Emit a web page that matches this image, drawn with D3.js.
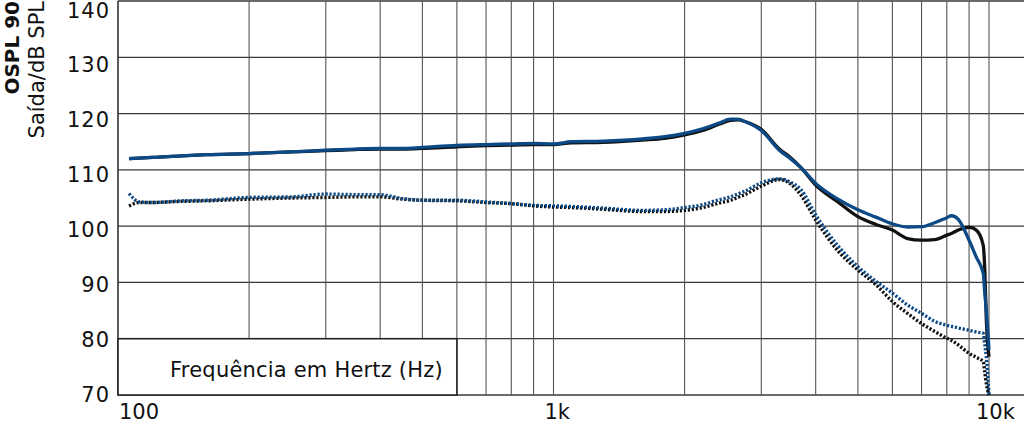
<!DOCTYPE html>
<html>
<head>
<meta charset="utf-8">
<script src="https://cdn.jsdelivr.net/npm/d3@7"></script>
<style>
  body { margin: 0; background: #fff; }
  text { font-family: "DejaVu Sans", "Open Sans", sans-serif; fill: #111; }
</style>
</head>
<body>
<script>
const w = 1024;
const h = 423;

// frequencies (Hz) shared by all four curves
const freqs = [106, 112, 120, 140, 160, 200, 250, 300, 350, 400, 450, 500, 600, 700, 800, 900,
  1000, 1100, 1300, 1600, 1800, 2000, 2200, 2400, 2550, 2650, 2750, 3000, 3300, 3500, 3700,
  4000, 4500, 5000, 5500, 6000, 6500, 7000, 7500, 8000, 8200, 8500, 9000, 9350, 9700, 9780, 9860, 10000];

const solidBlue = [112.0, 112.1, 112.2, 112.5, 112.7, 112.9, 113.2, 113.5, 113.7, 113.8, 113.8, 114.0, 114.35, 114.5, 114.6, 114.7,
  114.6, 115.0, 115.1, 115.5, 115.9, 116.5, 117.3, 118.3, 119.0, 119.0, 118.6, 117.0, 113.5, 112.0, 110.4,
  107.6, 104.8, 102.9, 101.6, 100.4, 99.85, 99.9, 100.6, 101.5, 101.85, 101.2, 97.5, 94.5, 91.6, 88.0, 85.0, 78.0];

const solidBlack = [112.0, 112.1, 112.2, 112.5, 112.7, 112.9, 113.2, 113.4, 113.6, 113.7, 113.7, 113.8, 114.1, 114.3, 114.4, 114.5,
  114.5, 114.8, 114.9, 115.3, 115.6, 116.2, 117.0, 118.1, 118.8, 118.9, 118.6, 117.2, 113.7, 112.2, 110.4,
  107.3, 104.3, 101.7, 100.3, 99.3, 97.8, 97.5, 97.6, 98.4, 98.7, 99.3, 99.8, 99.3, 96.6, 92.2, 83.3, 76.8];

const dottedBlue = [105.8, 104.3, 104.2, 104.5, 104.6, 105.1, 105.2, 105.7, 105.6, 105.6, 104.9, 104.6, 104.6, 104.3, 104.0, 103.7,
  103.6, 103.5, 103.2, 102.8, 102.9, 103.3, 103.8, 104.7, 105.2, 105.7, 106.2, 107.7, 108.4, 107.8, 106.5,
  102.0, 96.5, 92.8, 90.2, 88.1, 86.0, 84.5, 83.1, 82.4, 82.2, 81.9, 81.5, 81.2, 80.95, 79.0, 76.8, 70.0];

const dottedBlack = [103.6, 104.2, 104.2, 104.4, 104.5, 104.8, 105.0, 105.1, 105.2, 105.2, 104.8, 104.6, 104.5, 104.2, 104.0, 103.6,
  103.4, 103.3, 103.0, 102.6, 102.6, 102.8, 103.3, 104.1, 104.6, 105.1, 105.6, 107.1, 108.3, 107.5, 105.5,
  101.1, 95.6, 92.2, 89.6, 86.6, 84.5, 82.7, 81.3, 80.1, 79.7, 78.9, 77.4, 76.7, 75.9, 74.0, 72.0, 70.0];

const gridFreqs = [100, 200, 300, 400, 500, 600, 700, 800, 900,
  1000, 2000, 3000, 4000, 5000, 6000, 7000, 8000, 9000, 10000];
const yTicks = [70, 80, 90, 100, 110, 120, 130, 140];
const xLabels = [[100, "100"], [1000, "1k"], [10000, "10k"]];

const xScale = d3.scaleLog().domain([100, 10000]).range([118, 989]);
const yScale = d3.scaleLinear().domain([70, 140]).range([395, 1]);
// tick labels sit on a slightly tighter spacing than the grid in the original
const yLabelScale = d3.scaleLinear().domain([70, 140]).range([394, 10]);

const svg = d3.select("body").append("svg")
  .attr("width", w)
  .attr("height", h);

// grid
svg.append("g").selectAll("line")
  .data(yTicks).enter().append("line")
  .attr("x1", 118).attr("x2", w)
  .attr("y1", (d) => yScale(d)).attr("y2", (d) => yScale(d))
  .attr("stroke", "#3a3a3a").attr("stroke-width", 1.3);

svg.append("g").selectAll("line")
  .data(gridFreqs).enter().append("line")
  .attr("x1", (d) => xScale(d)).attr("x2", (d) => xScale(d))
  .attr("y1", yScale(140)).attr("y2", yScale(70))
  .attr("stroke", (d) => d == 100 ? "#333" : "#555")
  .attr("stroke-width", (d) => d == 100 ? 1.6 : 1.1);

// x label box
svg.append("rect")
  .attr("x", xScale(100)).attr("y", yScale(80))
  .attr("width", xScale(600) - xScale(100))
  .attr("height", yScale(70) - yScale(80))
  .attr("fill", "#fff").attr("stroke", "#222").attr("stroke-width", 1.6);

svg.append("text")
  .attr("x", xScale(600) - 14).attr("y", 377)
  .attr("text-anchor", "end")
  .style("font-size", "21px")
  .style("letter-spacing", "0.2px")
  .text("Frequência em Hertz (Hz)");

// y tick labels
svg.append("g").selectAll("text")
  .data(yTicks).enter().append("text")
  .attr("x", 110).attr("y", (d) => yLabelScale(d))
  .attr("dy", "0.36em")
  .attr("text-anchor", "end")
  .style("font-size", "21px")
  .style("letter-spacing", "1px")
  .text((d) => d);

// x tick labels
const xOffsets = { 100: 1, 1000: -9, 10000: -13 };
svg.append("g").selectAll("text")
  .data(xLabels).enter().append("text")
  .attr("x", (d) => xScale(d[0]) + xOffsets[d[0]])
  .attr("y", 419)
  .style("font-size", "21px")
  .text((d) => d[1]);

// y axis title
svg.append("text")
  .attr("transform", "translate(19,1) rotate(-90)")
  .attr("text-anchor", "end")
  .style("font-size", "20px").style("font-weight", "bold")
  .text("OSPL 90");
svg.append("text")
  .attr("transform", "translate(44,1) rotate(-90)")
  .attr("text-anchor", "end")
  .style("font-size", "21px")
  .text("Saída/dB SPL");

// curves
const line = d3.line()
  .x((d) => xScale(d[0]))
  .y((d) => yScale(d[1]))
  .curve(d3.curveMonotoneX);

const series = [
  { vals: dottedBlack, color: "#111", dash: "2.2,1.8", width: 3.4 },
  { vals: dottedBlue, color: "#0d4a85", dash: "2.2,1.8", width: 3.4 },
  { vals: solidBlack, color: "#111", dash: null, width: 3.3 },
  { vals: solidBlue, color: "#0d4a85", dash: null, width: 3.3 }
];

series.forEach((s) => {
  svg.append("path")
    .datum(freqs.map((f, i) => [f, s.vals[i]]))
    .attr("d", line)
    .attr("fill", "none")
    .attr("stroke", s.color)
    .attr("stroke-width", s.width)
    .attr("stroke-dasharray", s.dash);
});
</script>
</body>
</html>
